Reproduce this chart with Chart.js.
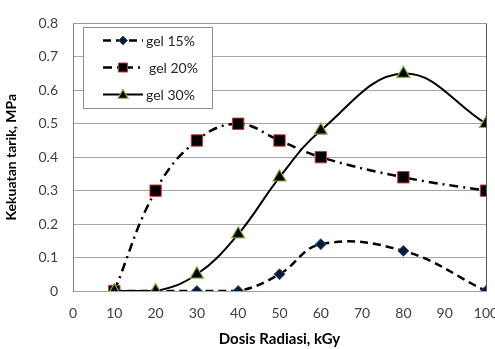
<!DOCTYPE html>
<html>
<head>
<meta charset="utf-8">
<script src="https://cdn.jsdelivr.net/npm/chart.js@4/dist/chart.umd.min.js"></script>
<style>
  html, body { margin: 0; padding: 0; background: #ffffff; overflow: hidden; }
  #wrap { position: relative; width: 500px; height: 349px; }
</style>
</head>
<body>
<div id="wrap"><canvas id="c" width="500" height="349"></canvas></div>
<script>
// ---- data ----
const doses = [10, 20, 30, 40, 50, 60, 80, 100];
const gel15 = [0, 0, 0, 0, 0.05, 0.14, 0.12, 0];
const gel20 = [0, 0.30, 0.45, 0.50, 0.45, 0.40, 0.34, 0.30];
const gel30 = [0, 0, 0.05, 0.17, 0.34, 0.48, 0.65, 0.50];
const seriesLabels = ['gel 15%', 'gel 20%', 'gel 30%'];
const xTickValues = [0, 10, 20, 30, 40, 50, 60, 70, 80, 90, 100];
const yTickValues = [0, 0.1, 0.2, 0.3, 0.4, 0.5, 0.6, 0.7, 0.8];
const xTitle = 'Dosis Radiasi, kGy';
const yTitle = 'Kekuatan tarik, MPa';

const pts = ys => doses.map((x, i) => ({ x: x, y: ys[i] }));
const FONT = 'Lato, "Open Sans", sans-serif';

const datasets = [
  {
    label: seriesLabels[0], data: pts(gel15), order: 2,
    borderColor: '#000000', borderWidth: 2.5, borderDash: [8, 5],
    pointStyle: 'rectRot', pointRadius: 5.5, pointBackgroundColor: '#0b1a33',
    pointBorderColor: '#2e5c9a', pointBorderWidth: 1, tension: 0.4
  },
  {
    label: seriesLabels[1], data: pts(gel20), order: 1,
    borderColor: '#000000', borderWidth: 2.5, borderDash: [9, 5, 2, 5],
    pointStyle: 'rect', pointRadius: 8, pointBackgroundColor: '#000000',
    pointBorderColor: '#d0342c', pointBorderWidth: 1, tension: 0.4
  },
  {
    label: seriesLabels[2], data: pts(gel30), order: 0,
    borderColor: '#000000', borderWidth: 2, borderDash: [],
    pointStyle: 'triangle', pointRadius: 7.5, pointBackgroundColor: '#000000',
    pointBorderColor: '#86b23a', pointBorderWidth: 1.2, tension: 0.4
  }
];

function drawMarker(ctx, style, r, x, y, fill, stroke, bw) {
  ctx.save();
  ctx.setLineDash([]);
  ctx.fillStyle = fill; ctx.strokeStyle = stroke; ctx.lineWidth = bw;
  ctx.beginPath();
  if (style === 'rectRot') {
    ctx.moveTo(x, y - r); ctx.lineTo(x + r, y); ctx.lineTo(x, y + r); ctx.lineTo(x - r, y);
  } else if (style === 'rect') {
    ctx.rect(x - r, y - r, 2 * r, 2 * r);
  } else {
    ctx.moveTo(x, y - r); ctx.lineTo(x + r, y + r * 0.75); ctx.lineTo(x - r, y + r * 0.75);
  }
  ctx.closePath(); ctx.fill(); ctx.stroke();
  ctx.restore();
}

const framePlugin = {
  id: 'frameLegend',
  afterDraw(chart) {
    const ctx = chart.ctx, a = chart.chartArea;
    ctx.save();
    // top and right plot border
    ctx.strokeStyle = '#9a9a9a'; ctx.lineWidth = 1;
    ctx.beginPath(); ctx.moveTo(a.left, Math.round(a.top) + 0.5); ctx.lineTo(a.right, Math.round(a.top) + 0.5); ctx.stroke();
    ctx.strokeStyle = '#555555';
    ctx.beginPath(); ctx.moveTo(Math.round(a.right) + 0.5, a.top); ctx.lineTo(Math.round(a.right) + 0.5, a.bottom); ctx.stroke();
    // legend box
    const bx = 83.5, by = 27.5, bw = 129, bh = 81;
    ctx.fillStyle = '#ffffff'; ctx.strokeStyle = '#8c8c8c'; ctx.lineWidth = 1;
    ctx.fillRect(bx, by, bw, bh); ctx.strokeRect(bx, by, bw, bh);
    const rowsY = [40.5, 67.5, 94.5];
    const textX = [146, 149, 146];
    const mk = [4.5, 4.5, 5];
    chart.data.datasets.forEach((ds, i) => {
      const y = rowsY[i];
      ctx.save();
      ctx.strokeStyle = ds.borderColor; ctx.lineWidth = ds.borderWidth;
      ctx.setLineDash(ds.borderDash || []);
      ctx.beginPath(); ctx.moveTo(103, y); ctx.lineTo(143, y); ctx.stroke();
      ctx.restore();
      drawMarker(ctx, ds.pointStyle, mk[i], 123, y, ds.pointBackgroundColor, ds.pointBorderColor, ds.pointBorderWidth);
      ctx.fillStyle = '#262626';
      ctx.font = '14px ' + FONT;
      ctx.textBaseline = 'middle'; ctx.textAlign = 'left';
      ctx.fillText(ds.label, textX[i], y + 1);
    });
    ctx.restore();
  }
};

new Chart(document.getElementById('c'), {
  type: 'scatter',
  data: { datasets: datasets },
  plugins: [framePlugin],
  options: {
    responsive: false,
    animation: false,
    showLine: true,
    layout: { padding: { top: 16, right: 14, bottom: 0, left: 0 } },
    plugins: { legend: { display: false }, tooltip: { enabled: false } },
    elements: { line: { fill: false } },
    scales: {
      x: {
        type: 'linear', min: 0, max: 100,
        afterBuildTicks: s => { s.ticks = xTickValues.map(v => ({ value: v })); },
        afterFit: s => { s.height = 58; s.paddingRight = 0; },
        ticks: { color: '#404040', font: { family: FONT, size: 14 }, padding: 14, maxRotation: 0 },
        grid: { display: false, drawTicks: false },
        border: { display: true, color: '#a0a0a0', width: 1 },
        title: { display: true, text: xTitle, color: '#000000', font: { family: FONT, size: 15, weight: 'bold' }, padding: { top: 0, bottom: 1 } }
      },
      y: {
        type: 'linear', min: 0, max: 0.8,
        afterBuildTicks: s => { s.ticks = yTickValues.map(v => ({ value: v })); },
        afterFit: s => { s.width = 73; },
        ticks: { color: '#404040', font: { family: FONT, size: 14 }, padding: 15,
                 callback: v => (Math.abs(v) < 1e-9 ? '0' : v.toFixed(1)) },
        grid: { color: '#a6a6a6', lineWidth: 1, drawTicks: false },
        border: { display: true, color: '#808080', width: 1 },
        title: { display: true, text: yTitle, color: '#000000', font: { family: FONT, size: 14, weight: 'bold' }, padding: { top: 3, bottom: 0 } }
      }
    }
  }
});
</script>
</body>
</html>
